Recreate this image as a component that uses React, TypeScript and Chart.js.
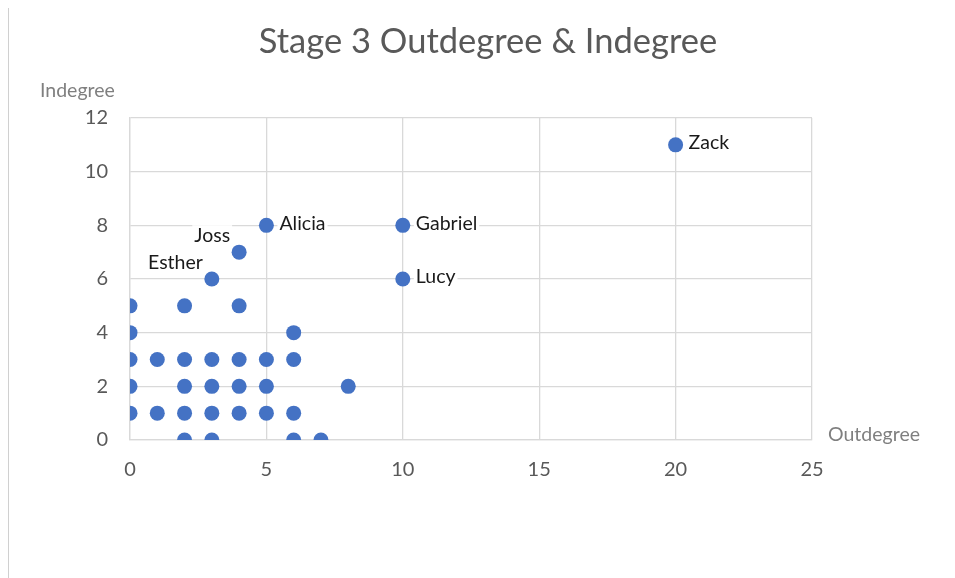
import React, { useEffect, useRef } from "react";
import { Chart, registerables } from "chart.js";

Chart.register(...registerables);

const titleText = "Stage 3 Outdegree & Indegree";
const xAxisTitle = "Outdegree";
const yAxisTitle = "Indegree";

const outdegree = [0, 0, 0, 0, 0, 1, 1, 2, 2, 2, 2, 2, 3, 3, 3, 3, 3, 4, 4, 4, 4, 4, 5, 5, 5, 5, 6, 6, 6, 6, 7, 8, 10, 10, 20];
const indegree = [5, 4, 3, 2, 1, 3, 1, 5, 3, 2, 1, 0, 6, 3, 2, 1, 0, 7, 5, 3, 2, 1, 8, 3, 2, 1, 4, 3, 1, 0, 0, 2, 8, 6, 11];
const names = ["", "", "", "", "", "", "", "", "", "", "", "", "Esther", "", "", "", "", "Joss", "", "", "", "", "Alicia", "", "", "", "", "", "", "", "", "", "Gabriel", "Lucy", "Zack"];

const xTicks = [0, 5, 10, 15, 20, 25];
const yTicks = [0, 2, 4, 6, 8, 10, 12];

const FONT = "Lato, 'Liberation Sans', sans-serif";
const leftLabels = new Set(["Joss", "Esther"]);

const textPlugin = {
  id: "textPlugin",
  afterDraw(chart: any) {
    const ctx = chart.ctx;
    ctx.save();
    ctx.fillStyle = "#595959";
    ctx.font = `34.5px ${FONT}`;
    ctx.textAlign = "center";
    ctx.textBaseline = "alphabetic";
    ctx.fillText(titleText, 479, 46);
    ctx.fillStyle = "#7f7f7f";
    ctx.font = `19.5px ${FONT}`;
    ctx.textAlign = "left";
    ctx.fillText(yAxisTitle, 31, 90);
    ctx.fillText(xAxisTitle, 819, 434);
    ctx.restore();
  },
  afterDatasetsDraw(chart: any) {
    const ctx = chart.ctx;
    const meta = chart.getDatasetMeta(0);
    ctx.save();
    ctx.font = `19.5px ${FONT}`;
    ctx.textBaseline = "middle";
    names.forEach((n, i) => {
      if (!n) return;
      const pt = meta.data[i];
      const w = ctx.measureText(n).width;
      let x: number, y: number;
      if (leftLabels.has(n)) {
        x = pt.x - 9 - w;
        y = pt.y - 16;
      } else {
        x = pt.x + 13;
        y = pt.y - 2;
      }
      ctx.fillStyle = "#ffffff";
      ctx.fillRect(x - 2, y - 11, w + 4, 22);
      ctx.fillStyle = "#1a1a1a";
      ctx.textAlign = "left";
      ctx.fillText(n, x, y);
    });
    ctx.restore();
  },
};

export default function App() {
  const ref = useRef<HTMLCanvasElement>(null);
  useEffect(() => {
    if (!ref.current) return;
    const chart = new Chart(ref.current, {
      type: "scatter",
      data: {
        datasets: [
          {
            data: outdegree.map((x, i) => ({ x, y: indegree[i] })),
            backgroundColor: "#4472c4",
            borderWidth: 0,
            pointRadius: 7.5,
            pointHoverRadius: 7.5,
          },
        ],
      },
      options: {
        animation: false,
        responsive: false,
        devicePixelRatio: 1,
        layout: { padding: { top: 111, right: 143, left: 0, bottom: 0 } },
        plugins: { legend: { display: false }, tooltip: { enabled: false }, title: { display: false } },
        scales: {
          x: {
            type: "linear",
            min: 0,
            max: 25,
            afterBuildTicks: (s: any) => { s.ticks = xTicks.map((v) => ({ value: v })); },
            afterFit: (s: any) => { s.height = 138; },
            ticks: { color: "#595959", font: { family: FONT, size: 20 }, padding: 18 },
            grid: { color: "#d9d9d9", lineWidth: 1.3, drawTicks: false },
            border: { color: "#d9d9d9", width: 1.3 },
          },
          y: {
            type: "linear",
            min: 0,
            max: 12,
            afterBuildTicks: (s: any) => { s.ticks = yTicks.map((v) => ({ value: v })); },
            afterFit: (s: any) => { s.width = 121; },
            ticks: { color: "#595959", font: { family: FONT, size: 20 }, padding: 22 },
            grid: { color: "#d9d9d9", lineWidth: 1.3, drawTicks: false },
            border: { color: "#d9d9d9", width: 1.3 },
          },
        },
      },
      plugins: [textPlugin],
    });
    return () => chart.destroy();
  }, []);
  return (
    <div
      style={{
        width: 947,
        height: 572,
        marginTop: -2,
        borderTop: "1.5px solid #d0d0d0",
        borderLeft: "1.5px solid #d0d0d0",
        boxSizing: "border-box",
        overflow: "hidden",
      }}
    >
      <canvas ref={ref} width={946} height={571} style={{ display: "block" }} />
    </div>
  );
}
